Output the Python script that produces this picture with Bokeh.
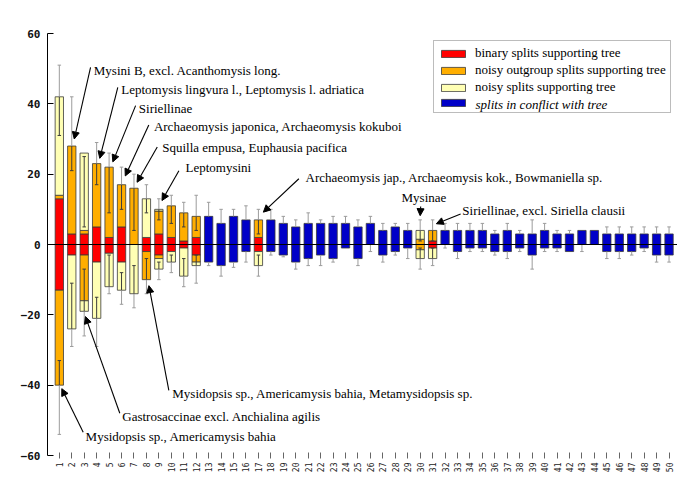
import numpy as np
from bokeh.plotting import figure
from bokeh.models import (ColumnDataSource, Range1d, FixedTicker, Span, Legend,
                          LegendItem, Label, Arrow, NormalHead)
from bokeh.embed import file_html
from bokeh.resources import INLINE

# ---------------- data ----------------
splits = list(range(1, 51))
y_ticks = [-60, -40, -20, 0, 20, 40, 60]

binary_up = [13, 3, 3, 5, 2, 5, 0, 2, 3, 2, 1, 2, 0, 0, 0, 0, 2, 0, 0, 0,
             0, 0, 0, 0, 0, 0, 0, 0, 0, 0, 1, 0, 0, 0, 0, 0, 0, 0, 0, 0,
             0, 0, 0, 0, 0, 0, 0, 0, 0, 0]
outgroup_up = [1, 25, 1, 18, 20, 12, 16, 0, 6.5, 9, 8, 6, 0, 0, 0, 0, 5, 0, 0, 0,
               0, 0, 0, 0, 0, 0, 0, 0, 0, 1.5, 3, 0, 0, 0, 0, 0, 0, 0, 0, 0,
               0, 0, 0, 0, 0, 0, 0, 0, 0, 0]
noisy_up = [28, 0, 22, 0, 0, 0, 0, 11, 0.5, 0, 0, 0, 0, 0, 0, 0, 0, 0, 0, 0,
            0, 0, 0, 0, 0, 0, 0, 0, 0, 2.5, 0, 0, 0, 0, 0, 0, 0, 0, 0, 0,
            0, 0, 0, 0, 0, 0, 0, 0, 0, 0]
binary_dn = [13, 3, 3, 5, 2.5, 5, 0, 2, 3, 2, 1, 3, 0, 0, 0, 0, 2, 0, 0, 0,
             0, 0, 0, 0, 0, 0, 0, 0, 0, 0, 1, 0, 0, 0, 0, 0, 0, 0, 0, 0,
             0, 0, 0, 0, 0, 0, 0, 0, 0, 0]
outgroup_dn = [27, 0, 13, 0, 0, 0, 0, 8, 1, 0, 0, 2, 0, 0, 0, 0, 0, 0, 0, 0,
               0, 0, 0, 0, 0, 0, 0, 0, 0, 1.5, 0, 0, 0, 0, 0, 0, 0, 0, 0, 0,
               0, 0, 0, 0, 0, 0, 0, 0, 0, 0]
noisy_dn = [0, 21, 3, 16, 9.5, 8, 14, 0, 3, 3, 8, 1, 0, 0, 0, 0, 4, 0, 0, 0,
            0, 0, 0, 0, 0, 0, 0, 0, 0, 2.5, 3, 0, 0, 0, 0, 0, 0, 0, 0, 0,
            0, 0, 0, 0, 0, 0, 0, 0, 0, 0]
conflict_up = [0, 0, 0, 0, 0, 0, 0, 0, 0, 0, 0, 0, 8, 6, 8, 7, 0, 7, 6, 5,
               6, 6, 6, 6, 5, 6, 4, 5, 4, 0, 0, 4, 4, 4, 4, 3, 4, 3, 3, 4,
               3, 3, 4, 4, 3, 3, 3, 3, 3, 3]
conflict_dn = [0, 0, 0, 0, 0, 0, 0, 0, 0, 0, 0, 0, 5, 6, 5, 2, 0, 2, 3, 5,
               4, 3, 4, 1, 4, 0, 3, 2, 1, 0, 0, 0, 2, 1, 1, 2, 2, 1, 3, 1,
               1, 2, 0, 0, 2, 2, 2, 1, 3, 3]

err_up_hi = [51, 42, 25, 29, 26, 22, 20, 17, 13, 14, 12, 14, 12, 10, 10, 11, 10, 10, 8, 7,
             9, 7, 8, 8, 7, 8, 6, 6, 6, 7, 7, 6, 6, 6, 6, 4, 6, 4, 7, 6,
             4, 4, 4, 4, 5, 5, 5, 5, 5, 5]
err_up_lo = [31, 21, 5, 17, 9, 10, 4, 9, 7, 6, 5, 4, 8, 6, 8, 7, 3, 7, 6, 5,
             6, 6, 6, 6, 5, 6, 4, 5, 4, 1, 1, 4, 4, 4, 4, 3, 4, 3, 3, 4,
             3, 3, 4, 4, 3, 3, 3, 3, 3, 3]
err_dn_hi = [-33, -11, -7, -15, -3, -8, -6, -4, -5, -3, -4, -3, -5, -6, -5, -2, -3, -2, -3, -5,
             -4, -3, -4, -1, -4, 0, -3, -2, -1, -1, -1, 0, -2, -1, -1, -2, -2, -1, -3, -1,
             -1, -2, 0, 0, -2, -2, -2, -1, -3, -3]
err_dn_lo = [-54, -29, -26, -29, -14, -17, -18, -14, -10, -8, -12, -11, -6, -9, -6.5, -5, -9, -3, -3.5, -7,
             -6, -6, -5, -1, -6, -2, -5, -3, -4, -7, -6, -1, -4, -2, -2, -3, -4, -2, -7, -2,
             -2, -2, -2, 0, -4, -4, -3, -2, -5, -5]

legend_labels = ["binary splits supporting tree",
                 "noisy outgroup splits supporting tree",
                 "noisy splits supporting tree",
                 "splits in conflict with tree"]

ann_labels = ["Mysini B, excl. Acanthomysis long.",
              "Leptomysis lingvura l., Leptomysis l. adriatica",
              "Siriellinae",
              "Archaeomysis japonica, Archaeomysis kokuboi",
              "Squilla empusa, Euphausia pacifica",
              "Leptomysini",
              "Archaeomysis jap., Archaeomysis kok., Bowmaniella sp.",
              "Mysinae",
              "Siriellinae, excl. Siriella clausii",
              "Mysidopsis sp., Americamysis bahia, Metamysidopsis sp.",
              "Gastrosaccinae excl. Anchialina agilis",
              "Mysidopsis sp., Americamysis bahia"]
ann_split = [2, 4, 5, 6, 7, 9, 17, 30, 31, 8, 3, 1]
ann_side = [1, 1, 1, 1, 1, 1, 1, 1, 1, -1, -1, -1]

# annotation layout (data units)
ann_text_x = [3.77, 5.98, 7.39, 8.60, 9.27, 11.14, 20.79, 30.30, 33.39, 10.08, 6.06, 3.11]
ann_text_y = [49.5, 44.0, 38.6, 33.6, 27.5, 21.8, 19.1, 13.4, 9.7, -42.5, -48.9, -54.5]
ann_tail_x = [3.51, 5.70, 7.13, 8.19, 8.87, 10.61, 20.25, 30.04, 33.25, 9.80, 5.86, 2.92]
ann_tail_y = [50.4, 44.7, 39.5, 34.0, 27.7, 21.0, 18.7, 10.8, 8.7, -41.5, -48.0, -53.4]
ann_tip_dx = [0.2, 0.25, 0.3, 0.3, 0.25, 0.25, 0.4, 0.0, 0.3, 0.2, 0.1, 0.2]
ann_gap = [2.0, 1.5, 1.5, 2.5, 1.7, 2.5, 2.2, 4.2, 1.9, 1.7, 1.5, 1.0]

SERIF = "'Liberation Serif'"
MONO = "'DejaVu Sans Mono'"

# ---------------- derived stacks ----------------
x = np.array(splits, dtype=float)
bu, ou, nu = map(np.array, (binary_up, outgroup_up, noisy_up))
bd, od, nd = map(np.array, (binary_dn, outgroup_dn, noisy_dn))
cu, cd = np.array(conflict_up, float), np.array(conflict_dn, float)

BAR_W = 0.67
OUTLINE = "#3a3a3a"
RED, ORANGE, YELLOW, BLUE = "#FF0000", "#FFAE00", "#FFFFB4", "#0000C8"

p = figure(width=677, height=476, output_backend="svg", toolbar_location=None,
           x_range=Range1d(0.05, 50.68), y_range=Range1d(-60, 60),
           min_border_left=47, min_border_right=0, min_border_top=33,
           min_border_bottom=21)
p.outline_line_color = None
p.xgrid.visible = False
p.ygrid.visible = False
p.background_fill_color = "white"


def stack(bottom, top, color):
    bottom = np.asarray(bottom, float)
    top = np.asarray(top, float)
    m = np.abs(top - bottom) > 1e-9
    src = ColumnDataSource(dict(x=x[m], b=bottom[m], t=top[m]))
    return p.vbar(x="x", width=BAR_W, bottom="b", top="t", source=src,
                  fill_color=color, line_color=OUTLINE, line_width=0.8)


r_blue = stack(-cd, cu, BLUE)
r_red = stack(np.zeros(50), bu, RED)
stack(np.zeros(50), -bd, RED)
r_org = stack(bu, bu + ou, ORANGE)
stack(-bd, -(bd + od), ORANGE)
r_yel = stack(bu + ou, bu + ou + nu, YELLOW)
stack(-(bd + od), -(bd + od + nd), YELLOW)

up_end = np.maximum(bu + ou + nu, cu)
dn_end = -np.maximum(bd + od + nd, cd)

# whiskers: grey outside bar, dark inside bar
GREY, DARK = "#9c9c9c", "#3c3c3c"
seg = dict(x0=[], y0=[], x1=[], y1=[], c=[])


def add_seg(x0, y0, x1, y1, c):
    seg["x0"].append(x0); seg["y0"].append(y0)
    seg["x1"].append(x1); seg["y1"].append(y1); seg["c"].append(c)


CAP = 0.14
for i in range(50):
    xi = x[i]
    lo, hi, e = err_up_lo[i], err_up_hi[i], up_end[i]
    if hi > lo:
        if hi > e:
            add_seg(xi, max(lo, e), xi, hi, GREY)
        if lo < e:
            add_seg(xi, lo, xi, min(hi, e), DARK)
        add_seg(xi - CAP, hi, xi + CAP, hi, GREY if hi > e else DARK)
        if abs(lo - e) > 1e-9:
            add_seg(xi - CAP, lo, xi + CAP, lo, DARK if lo < e else GREY)
    hi2, lo2, e2 = err_dn_hi[i], err_dn_lo[i], dn_end[i]
    if hi2 > lo2:
        if lo2 < e2:
            add_seg(xi, lo2, xi, min(hi2, e2), GREY)
        if hi2 > e2:
            add_seg(xi, max(lo2, e2), xi, hi2, DARK)
        add_seg(xi - CAP, lo2, xi + CAP, lo2, GREY if lo2 < e2 else DARK)
        if abs(hi2 - e2) > 1e-9:
            add_seg(xi - CAP, hi2, xi + CAP, hi2, DARK if hi2 > e2 else GREY)

p.segment(x0="x0", y0="y0", x1="x1", y1="y1", color="c", line_width=1,
          source=ColumnDataSource(seg))

p.add_layout(Span(location=0, dimension="width", line_color="black", line_width=1))

# axes
p.xaxis.ticker = FixedTicker(ticks=splits)
p.xaxis.major_label_orientation = np.pi / 2
p.xaxis.axis_line_color = None
p.xaxis.major_tick_in = 3
p.xaxis.major_tick_out = 3
p.xaxis.major_tick_line_color = "#666666"
p.xaxis.minor_tick_line_color = None
p.xaxis.major_label_text_font = MONO
p.xaxis.major_label_text_font_size = "8px"
p.xaxis.major_label_text_color = "#222222"
p.xaxis.major_label_standoff = 4

p.yaxis.ticker = FixedTicker(ticks=y_ticks)
p.yaxis.axis_line_color = "black"
p.yaxis.major_tick_in = 6
p.yaxis.major_tick_out = 0
p.yaxis.major_tick_line_color = "black"
p.yaxis.minor_tick_line_color = None
p.yaxis.major_label_text_font = MONO
p.yaxis.major_label_text_font_style = "bold"
p.yaxis.major_label_text_font_size = "11px"
p.yaxis.major_label_text_color = "#111111"
p.yaxis.major_label_standoff = 7

# annotations
stack_end = {1: up_end, -1: dn_end}
tip_x = [ann_split[k] + ann_tip_dx[k] for k in range(len(ann_labels))]
tip_y = [stack_end[ann_side[k]][ann_split[k] - 1] + ann_side[k] * ann_gap[k]
         for k in range(len(ann_labels))]
arrow_src = ColumnDataSource(dict(xs=ann_tail_x, ys=ann_tail_y, xe=tip_x, ye=tip_y))
p.add_layout(Arrow(end=NormalHead(size=7, fill_color="black", line_color="black",
                                  line_width=1),
                   x_start="xs", y_start="ys", x_end="xe", y_end="ye",
                   source=arrow_src, line_color="black", line_width=1.1))
for k, lab in enumerate(ann_labels):
    p.add_layout(Label(x=ann_text_x[k], y=ann_text_y[k], text=lab,
                       text_font=SERIF, text_font_size="13px",
                       text_baseline="middle",
                       text_align="center" if ann_split[k] == 30 else "left",
                       text_color="black"))

# legend (last label drawn separately in italic)
legend = Legend(items=[LegendItem(label=legend_labels[0], renderers=[r_red]),
                       LegendItem(label=legend_labels[1], renderers=[r_org]),
                       LegendItem(label=legend_labels[2], renderers=[r_yel]),
                       LegendItem(label=" ", renderers=[r_blue])],
                location=(386, 342), orientation="vertical",
                padding=4, spacing=1, glyph_width=30, glyph_height=9,
                label_height=12, label_standoff=7, margin=0,
                label_text_font=SERIF, label_text_font_size="13px",
                label_text_color="black", border_line_color="#7a7a7a",
                border_line_width=1, background_fill_alpha=0)
p.add_layout(legend)
p.add_layout(Label(x=34.45, y=39.8, text=legend_labels[3],
                   text_font=SERIF, text_font_size="13px",
                   text_font_style="italic", text_baseline="middle",
                   text_align="left", text_color="black"))

open("out.html", "w").write(file_html(p, INLINE))
